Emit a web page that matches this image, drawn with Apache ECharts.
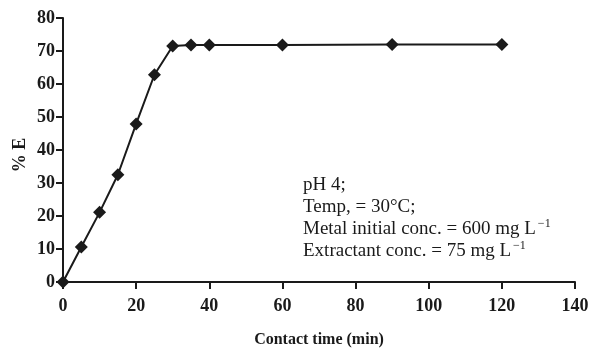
<!DOCTYPE html>
<html>
<head>
<meta charset="utf-8">
<script src="https://cdn.jsdelivr.net/npm/echarts@6/dist/echarts.min.js"></script>
<style>
  html, body { margin: 0; padding: 0; background: #fff; }
  #chart { width: 595px; height: 348px; }
</style>
</head>
<body>
<div id="chart"></div>
<script>
// contact time (min) vs % extraction
const times = [0, 5, 10, 15, 20, 25, 30, 35, 40, 60, 90, 120];
const extraction = [0, 10.6, 21.1, 32.5, 47.9, 62.8, 71.5, 71.8, 71.8, 71.8, 72, 72];
const xTicks = { min: 0, max: 140, interval: 20 };
const yTicks = { min: 0, max: 80, interval: 10 };

const serif = '"Liberation Serif", "DejaVu Serif", serif';
const ink = '#1a1a1a';

const chart = echarts.init(document.getElementById('chart'));

const axisCommon = {
  axisLine: { onZero: false, lineStyle: { color: ink, width: 2 } },
  axisTick: { length: 7, lineStyle: { color: ink, width: 2 } },
  axisLabel: { color: ink, fontFamily: serif, fontWeight: 'bold', fontSize: 18 },
  splitLine: { show: false }
};

chart.setOption({
  animation: false,
  grid: { left: 63, right: 20, top: 18, bottom: 66, outerBoundsMode: 'none', containLabel: false },
  xAxis: Object.assign({
    type: 'value',
    min: xTicks.min, max: xTicks.max, interval: xTicks.interval,
    name: 'Contact time (min)',
    nameLocation: 'middle',
    nameGap: 50,
    nameMoveOverlap: false,
    nameTextStyle: { color: ink, fontFamily: serif, fontWeight: 'bold', fontSize: 16 }
  }, axisCommon, {
    axisLabel: Object.assign({}, axisCommon.axisLabel, { margin: 15 })
  }),
  yAxis: Object.assign({
    type: 'value',
    min: yTicks.min, max: yTicks.max, interval: yTicks.interval,
    name: '% E',
    nameLocation: 'middle',
    nameGap: 34,
    nameMoveOverlap: false,
    nameTextStyle: { color: ink, fontFamily: serif, fontWeight: 'bold', fontSize: 18, padding: [0, 10, 0, 0] }
  }, axisCommon, {
    axisLabel: Object.assign({}, axisCommon.axisLabel, { margin: 8 })
  }),
  series: [{
    type: 'line',
    data: times.map((t, i) => [t, extraction[i]]),
    symbol: 'diamond',
    symbolSize: 13,
    lineStyle: { color: ink, width: 2 },
    itemStyle: { color: ink }
  }],
  graphic: [{
    type: 'text',
    left: 303,
    top: 174,
    style: {
      text: 'pH 4;\nTemp, = 30°C;\nMetal initial conc. = 600 mg L{sup|−1}\nExtractant conc. = 75 mg L{sup|−1}',
      fontFamily: serif,
      fontSize: 19,
      lineHeight: 22,
      fill: ink,
      rich: {
        sup: { fontSize: 12, verticalAlign: 'top', padding: [0, 0, 10, 2], fontFamily: serif, fill: ink }
      }
    }
  }]
});
</script>
</body>
</html>
